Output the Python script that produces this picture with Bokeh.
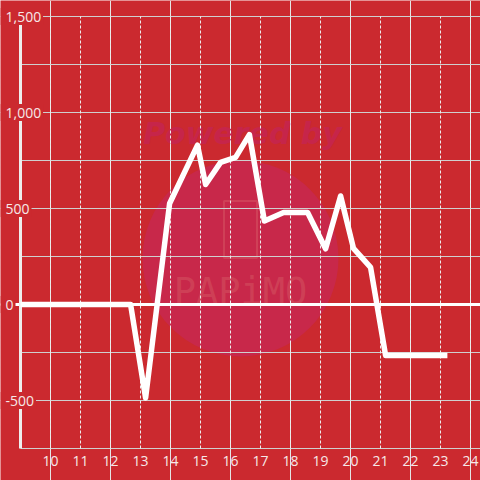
from bokeh.plotting import figure
from bokeh.models import ColumnDataSource, LabelSet, Range1d
from bokeh.core.properties import value
from bokeh.embed import file_html
from bokeh.resources import INLINE

# ---- data ----
hours = [9.0, 12.67, 13.17, 13.97, 14.9, 15.17, 15.67, 16.17, 16.63, 17.13,
         17.77, 18.57, 19.17, 19.67, 20.1, 20.67, 21.17, 23.23]
values = [0, 0, -487, 526, 830, 625, 740, 766, 885, 435,
          479, 479, 290, 565, 292, 193, -266, -266]

x_ticks = list(range(10, 25))
x_tick_labels = [str(t) for t in x_ticks]
y_ticks = [-500, 0, 500, 1000, 1500]
y_tick_labels = ["-500", "0", "500", "1,000", "1,500"]
y_minor = [-750, -250, 250, 750, 1250]

# ---- layout / style ----
X_MIN = 9
Y_MIN, Y_MAX = -750, 1500
W = H = 480
PX_X = 1 / 30        # hours per pixel
PX_Y = 500 / 96      # value units per pixel
x_start = X_MIN - 20 * PX_X
x_end = x_start + W * PX_X
y_end = Y_MAX + 16 * PX_Y
y_start = y_end - H * PX_Y

BG = "#cb292f"
LABEL = "#f6e8e8"
FONT = "Open Sans"
FS = 14
LABEL_X = 5
CHAR_W = {",": 0.25, "-": 0.32}

p = figure(width=W, height=H, x_range=Range1d(x_start, x_end),
           y_range=Range1d(y_start, y_end), output_backend="svg",
           toolbar_location=None, x_axis_location=None, y_axis_location=None,
           min_border=0, background_fill_color=BG, border_fill_color=BG,
           outline_line_color=None)

# watermark
wm_x = X_MIN + 220 * PX_X
p.circle(x=[wm_x], y=[46 * PX_Y], radius=98, radius_units="screen",
         fill_color="#c8284a", line_color=None)
p.rect(x=[wm_x], y=[75 * PX_Y], width=33, height=57, width_units="screen",
       height_units="screen", fill_color=None, line_color="#d24a5c",
       line_width=2, line_alpha=0.7)
p.text(x=[wm_x], y=[13 * PX_Y], text=["PAPiMO"], text_align="center",
       text_baseline="middle", text_font=value("DejaVu Sans Mono"),
       text_font_size="37px", text_color="#d24a5c", text_alpha=0.7)
p.text(x=[X_MIN + 222 * PX_X], y=[171 * PX_Y], text=["Powered by"],
       text_align="center", text_baseline="middle", text_font=value("DejaVu Sans"),
       text_font_style="bold italic", text_font_size="30px", text_color="#c6254a")

# grid lines
p.segment(x0=x_start, x1=x_end, y0=y_ticks, y1=y_ticks,
          line_color="#cfcfcf", line_width=1)
p.segment(x0=X_MIN, x1=x_end, y0=y_minor, y1=y_minor,
          line_color="#cfcfcf", line_width=1)
p.segment(x0=x_ticks, x1=x_ticks, y0=Y_MIN, y1=Y_MAX,
          line_color="#eeeeee", line_width=1, line_dash="3 2")
# zero line
p.segment(x0=[x_start], x1=[x_end], y0=[0], y1=[0], line_color="#ffffff", line_width=3)
# y axis line
p.segment(x0=[X_MIN], x1=[X_MIN], y0=[Y_MIN], y1=[Y_MAX], line_color="#eeeeee", line_width=3)

# data line
p.line(hours, values, line_color="#ffffff", line_width=5.5, line_join="round", line_cap="butt")

# backing boxes for the y tick labels (hide the axis / grid lines behind text)
def text_w(s):
    return sum(CHAR_W.get(c, 0.572) for c in s) * FS

box_w = [LABEL_X + text_w(s) + 2 for s in y_tick_labels]
p.rect(x=[x_start + (w / 2) * PX_X for w in box_w], y=y_ticks,
       width=box_w, height=17, width_units="screen",
       height_units="screen", fill_color=BG, line_color=None)

# tick labels
ysrc = ColumnDataSource(dict(x=[x_start] * len(y_ticks), y=y_ticks, t=y_tick_labels))
p.add_layout(LabelSet(x="x", y="y", text="t", source=ysrc, x_offset=LABEL_X,
                      text_align="left", text_baseline="middle",
                      text_font=value(FONT), text_font_size="%dpx" % FS,
                      text_color=LABEL))
xsrc = ColumnDataSource(dict(x=x_ticks, y=[Y_MIN - 12.5 * PX_Y] * len(x_ticks), t=x_tick_labels))
p.add_layout(LabelSet(x="x", y="y", text="t", source=xsrc,
                      text_align="center", text_baseline="middle",
                      text_font=value(FONT), text_font_size="%dpx" % FS,
                      text_color=LABEL))

html = file_html(p, INLINE, title="chart")
html = html.replace("<body>", '<body style="margin:0;background:%s">' % BG, 1)
open("out.html", "w").write(html)
